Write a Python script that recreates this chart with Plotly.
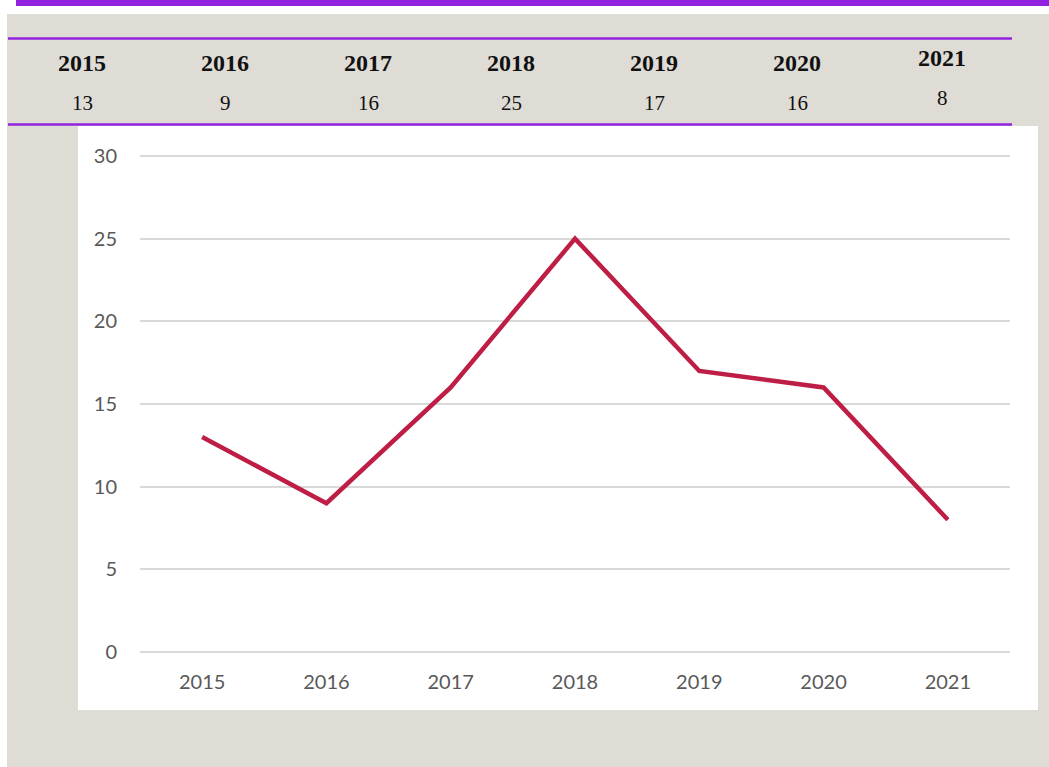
import plotly.graph_objects as go

years = ["2015", "2016", "2017", "2018", "2019", "2020", "2021"]
counts = [13, 9, 16, 25, 17, 16, 8]
y_ticks = [0, 5, 10, 15, 20, 25, 30]

W, H = 1049, 767
L, R, T, B = 140, 39, 151, 110
PW, PH = W - L - R, H - T - B

def px_x(p):
    return (p - L) / PW

def px_y(p):
    return (H - B - p) / PH

fig = go.Figure()
fig.add_trace(go.Scatter(
    x=years, y=counts, mode="lines",
    line=dict(color="#be1e45", width=4.5),
    hoverinfo="x+y", showlegend=False,
))

shapes = []
shapes.append(dict(type="rect", xref="paper", yref="paper", layer="below",
                   x0=px_x(7), x1=px_x(1049), y0=px_y(14), y1=px_y(767),
                   fillcolor="#dfdcd6", line=dict(width=0)))
shapes.append(dict(type="rect", xref="paper", yref="paper", layer="below",
                   x0=px_x(78), x1=px_x(1038), y0=px_y(126), y1=px_y(710),
                   fillcolor="#ffffff", line=dict(width=0)))
shapes.append(dict(type="rect", xref="paper", yref="paper", layer="below",
                   x0=px_x(16), x1=px_x(1049), y0=px_y(0), y1=px_y(6),
                   fillcolor="#9322e0", line=dict(width=0)))
for yy in (38.5, 124.5):
    shapes.append(dict(type="line", xref="paper", yref="paper",
                       x0=px_x(8), x1=px_x(1012), y0=px_y(yy), y1=px_y(yy),
                       line=dict(color="#9322e0", width=2.5)))

annotations = []
serif = "Liberation Serif, DejaVu Serif, serif"
for i, (yr, c) in enumerate(zip(years, counts)):
    cx = 82 + 143 * i
    if i == len(years) - 1:
        cx += 2
    shift = -5 if i == len(years) - 1 else 0
    annotations.append(dict(xref="paper", yref="paper", x=px_x(cx), y=px_y(63 + shift),
                            text="<b>%s</b>" % yr, showarrow=False,
                            font=dict(family=serif, size=24, color="#111111"),
                            xanchor="center", yanchor="middle"))
    annotations.append(dict(xref="paper", yref="paper", x=px_x(cx), y=px_y(103 + shift),
                            text=str(c), showarrow=False,
                            font=dict(family=serif, size=21, color="#111111"),
                            xanchor="center", yanchor="middle"))

fig.update_layout(
    width=W, height=H,
    margin=dict(l=L, r=R, t=T, b=B, pad=0),
    paper_bgcolor="#ffffff",
    plot_bgcolor="rgba(0,0,0,0)",
    shapes=shapes,
    annotations=annotations,
    font=dict(family="Lato, Open Sans, sans-serif", size=19, color="#595959"),
    xaxis=dict(type="category", range=[-0.5, 6.5], showgrid=False, showline=False,
               zeroline=False, ticks="", ticklabelstandoff=11,
               tickfont=dict(size=20, color="#595959")),
    yaxis=dict(range=[-0.3, 30.3], tickvals=y_ticks, showgrid=True, gridcolor="#d9d9d9",
               gridwidth=1.5, zeroline=False, showline=False, ticks="",
               ticklabelstandoff=22, tickfont=dict(size=20, color="#595959")),
)

fig.write_html("out.html", config={"displayModeBar": False},
               post_script="document.body.style.margin='0';document.body.style.overflow='hidden';")
